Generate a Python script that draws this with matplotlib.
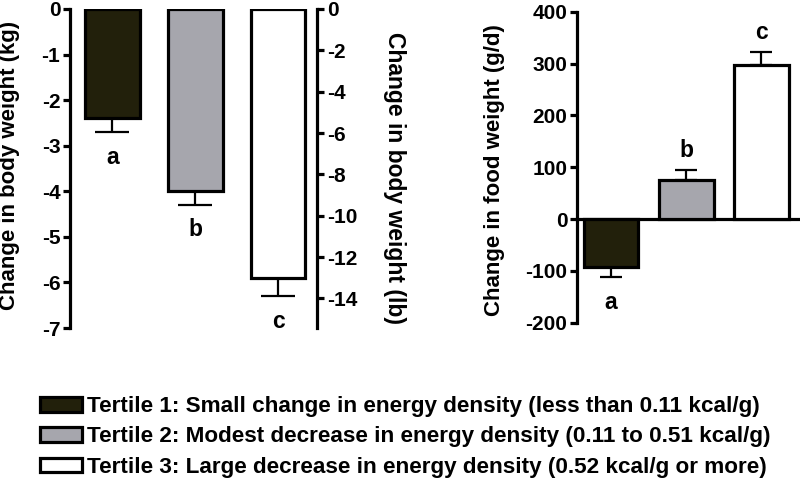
import matplotlib
matplotlib.use("Agg")
import matplotlib.pyplot as plt
from matplotlib.patches import Patch

categories = ["Tertile 1", "Tertile 2", "Tertile 3"]
letters = ["a", "b", "c"]
body_kg = [-2.4, -4.0, -5.9]
body_kg_err = [0.3, 0.3, 0.4]
food_gd = [-92, 75, 298]
food_gd_err = [19, 20, 25]
legend_labels = [
    "Tertile 1: Small change in energy density (less than 0.11 kcal/g)",
    "Tertile 2: Modest decrease in energy density (0.11 to 0.51 kcal/g)",
    "Tertile 3: Large decrease in energy density (0.52 kcal/g or more)",
]
kg_ticks = [0, -1, -2, -3, -4, -5, -6, -7]
lb_ticks = [0, -2, -4, -6, -8, -10, -12, -14]
food_ticks = [400, 300, 200, 100, 0, -100, -200]
KG_TO_LB = 2.20462

colors = ["#22200b", "#a6a6ad", "#ffffff"]
LW = 2.3
ELW = 1.6
TICK_FS = 15
LABEL_FS = 16
LETTER_FS = 16.5

plt.rcParams["font.family"] = ["Liberation Sans", "DejaVu Sans"]
plt.rcParams["font.weight"] = "bold"

fig = plt.figure(figsize=(8, 4.8), dpi=100)
x = list(range(len(categories)))

# ---------- left panel: body weight ----------
ax1 = fig.add_axes([70 / 800, 1 - 328 / 480, 247 / 800, 319 / 480])
ax1.bar(x, body_kg, width=0.66, color=colors, edgecolor="black", linewidth=LW, zorder=3)
ax1.errorbar(x, body_kg, yerr=[body_kg_err, [0] * 3], fmt="none",
             ecolor="black", elinewidth=ELW, capsize=12, capthick=ELW, zorder=2)
for xi, v, e, l in zip(x, body_kg, body_kg_err, letters):
    ax1.annotate(l, (xi, v - e), xytext=(0, -18), textcoords="offset points",
                 ha="center", va="center", fontsize=LETTER_FS, fontweight="bold")
ax1.set_xlim(-0.512, 2.47)
ax1.set_ylim(-7, 0)
ax1.set_yticks(kg_ticks)
ax1.set_yticklabels([str(t) for t in kg_ticks])
ax1.set_xticks([])
for s in ["top", "bottom", "right"]:
    ax1.spines[s].set_visible(False)
ax1.spines["left"].set_linewidth(LW)
ax1.tick_params(axis="y", direction="out", length=5, width=LW, labelsize=TICK_FS, pad=2)
ax1.set_ylabel("Change in body weight (kg)", fontsize=LABEL_FS, fontweight="bold")
ax1.yaxis.set_label_coords(-0.202, 0.51)

ax1b = ax1.twinx()
ax1b.set_ylim(-7 * KG_TO_LB, 0)
ax1b.set_yticks(lb_ticks)
ax1b.set_yticklabels([str(t) for t in lb_ticks])
for s in ["top", "bottom", "left"]:
    ax1b.spines[s].set_visible(False)
ax1b.spines["right"].set_linewidth(LW)
ax1b.tick_params(axis="y", direction="out", length=5, width=LW, labelsize=TICK_FS, pad=2)
ax1b.set_ylabel("Change in body weight (lb)", fontsize=16.5, fontweight="bold",
                rotation=-90, va="bottom", ha="center", rotation_mode="anchor")
ax1b.yaxis.set_label_coords(1.267, 0.47)

# ---------- right panel: food weight ----------
ax2 = fig.add_axes([577 / 800, 1 - 322.7 / 480, 221 / 800, 311 / 480])
ax2.bar(x, food_gd, width=0.73, color=colors, edgecolor="black", linewidth=LW, zorder=3)
lo = [e if v < 0 else 0 for v, e in zip(food_gd, food_gd_err)]
hi = [e if v >= 0 else 0 for v, e in zip(food_gd, food_gd_err)]
ax2.errorbar(x, food_gd, yerr=[lo, hi], fmt="none", ecolor="black",
             elinewidth=ELW, capsize=8, capthick=ELW, zorder=2)
for xi, v, e, l in zip(x, food_gd, food_gd_err, letters):
    if v < 0:
        ax2.annotate(l, (xi, v - e), xytext=(0, -19), textcoords="offset points",
                     ha="center", va="center", fontsize=LETTER_FS, fontweight="bold")
    else:
        ax2.annotate(l, (xi, v + e), xytext=(0, 14), textcoords="offset points",
                     ha="center", va="center", fontsize=LETTER_FS, fontweight="bold")
ax2.set_xlim(-0.453, 2.487)
ax2.set_ylim(-200, 400)
ax2.set_yticks(food_ticks)
ax2.set_yticklabels([str(t) for t in food_ticks])
ax2.set_xticks([])
ax2.spines["top"].set_visible(False)
ax2.spines["right"].set_visible(False)
ax2.spines["bottom"].set_position(("data", 0))
ax2.spines["bottom"].set_linewidth(LW)
ax2.spines["left"].set_linewidth(LW)
ax2.tick_params(axis="y", direction="out", length=5, width=LW, labelsize=TICK_FS, pad=2)
ax2.set_ylabel("Change in food weight (g/d)", fontsize=LABEL_FS, fontweight="bold")
ax2.yaxis.set_label_coords(-0.326, 0.49)

# ---------- legend ----------
handles = [Patch(facecolor=c, edgecolor="black", linewidth=LW) for c in colors]
fig.legend(handles, legend_labels, loc="upper left", bbox_to_anchor=(40 / 800, 1 - 396 / 480),
           frameon=False, borderpad=0, borderaxespad=0, handlelength=1.85, handleheight=0.64,
           handletextpad=0.22, labelspacing=0.42,
           prop={"family": ["Liberation Sans", "DejaVu Sans"], "weight": "bold", "size": 16.2})

fig.savefig("out.png", dpi=100)
